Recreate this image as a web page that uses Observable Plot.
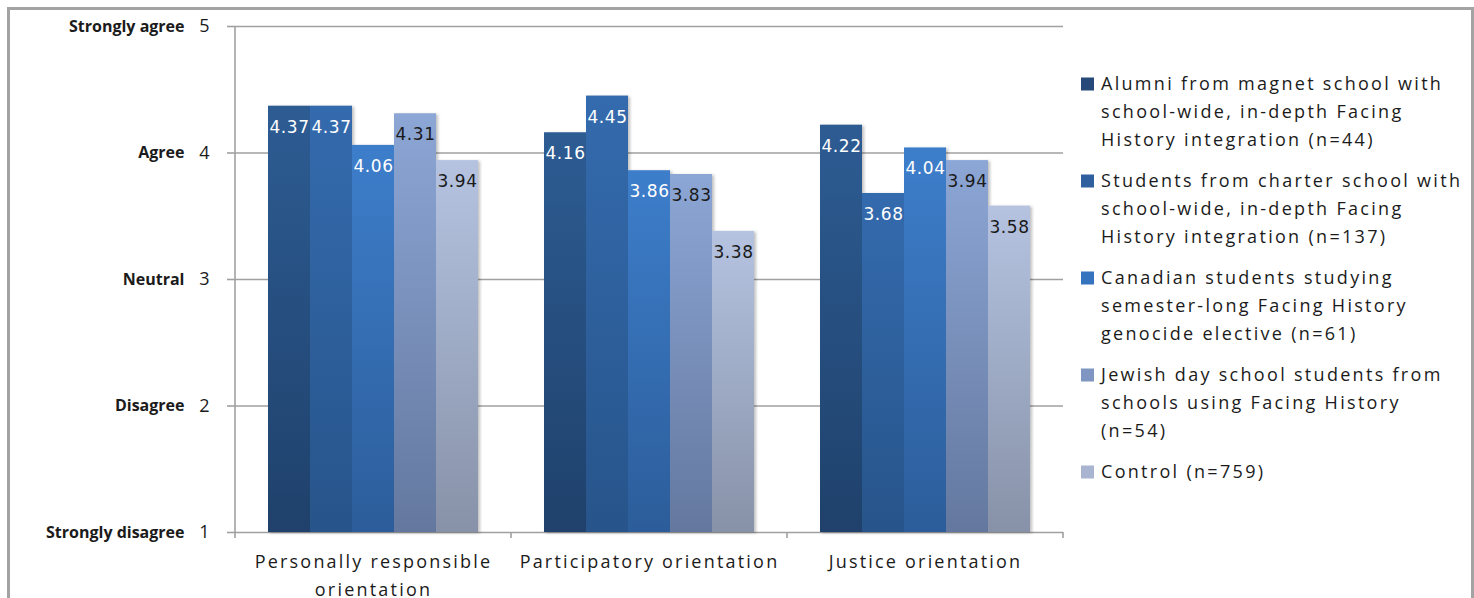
<!DOCTYPE html>
<html><head><meta charset="utf-8">
<script src="https://cdn.jsdelivr.net/npm/d3@7"></script>
<script src="https://cdn.jsdelivr.net/npm/@observablehq/plot@0.6"></script>
<style>
body{margin:0;background:#fff;}
#wrap{position:relative;width:1474px;height:598px;overflow:hidden;}
#wrap svg{position:absolute;left:0;top:0;}
#border{position:absolute;left:7px;top:7px;width:1461px;height:640px;border:3px solid #a3a3a3;}
#wrap g[aria-label="fx-axis tick label"] text{letter-spacing:2.2px;}
#wrap g[aria-label="y-axis tick label"][font-weight="bold"] text{letter-spacing:1.4px;}
#wrap g[aria-label="text"] text{letter-spacing:0.6px;}
</style></head><body><div id="wrap"><div id="border"></div></div>
<script>
// ---- data ----
const categories = ["Personally responsible\norientation", "Participatory orientation", "Justice orientation"];
const seriesNames = [
  "Alumni from magnet school with\nschool-wide, in-depth Facing\nHistory integration (n=44)",
  "Students from charter school with\nschool-wide, in-depth Facing\nHistory integration (n=137)",
  "Canadian students studying\nsemester-long Facing History\ngenocide elective (n=61)",
  "Jewish day school students from\nschools using Facing History\n(n=54)",
  "Control (n=759)"
];
const alumni   = [4.37, 4.16, 4.22];
const charter  = [4.37, 4.45, 3.68];
const canadian = [4.06, 3.86, 4.04];
const jewish   = [4.31, 3.83, 3.94];
const control  = [3.94, 3.38, 3.58];
const yTicks = [1, 2, 3, 4, 5];
const yTickLabels = ["Strongly disagree", "Disagree", "Neutral", "Agree", "Strongly agree"];

// ---- styles ----
const gradStops = [
  ["#2d5c93", "#1f416b"],
  ["#346bae", "#27548a"],
  ["#3d7ecb", "#2c5d9a"],
  ["#8ca6d5", "#64789f"],
  ["#b5c3e1", "#8792a8"]
];
const legendColors = ["#26497a", "#2f5f9f", "#3673bf", "#7f95c2", "#a9b5d0"];
const labelColors = ["#ffffff", "#ffffff", "#ffffff", "#1a1a1a", "#1a1a1a"];
const font = "'Open Sans', sans-serif";

const allSeries = [alumni, charter, canadian, jewish, control];
const rows = [];
categories.forEach((c, ci) => allSeries.forEach((arr, si) => rows.push({category: c, series: seriesNames[si], si, value: arr[ci]})));

const plot = Plot.plot({
  width: 1474, height: 598,
  marginLeft: 235, marginRight: 411, marginTop: 26, marginBottom: 66,
  fx: {domain: categories, padding: 0, label: null},
  x: {domain: seriesNames, padding: 0, paddingOuter: 0.77, axis: null},
  y: {domain: [1, 5], label: null},
  color: {type: "identity"},
  style: {background: "transparent", color: "#1b1b1b", fontFamily: font},
  marks: [
    Plot.gridY(yTicks, {stroke: "#a0a0a0", strokeOpacity: 1, strokeWidth: 1.6}),
    Plot.axisY({ticks: yTicks, tickFormat: d => String(d), tickSize: 8, tickPadding: 18, stroke: "#a0a0a0", strokeWidth: 1.6, fontSize: 18, label: null}),
    Plot.axisY({ticks: yTicks, tickFormat: d => yTickLabels[d - 1], tickSize: 0, tickPadding: 51, fontSize: 16, fontWeight: "bold", label: null}),
    Plot.axisFx({anchor: "bottom", tickSize: 0, tickPadding: 16, fontSize: 18, lineHeight: 1.55, label: null}),
    Plot.barY(rows, {fx: "category", x: "series", y1: 1, y2: "value", fill: d => `url(#grad${d.si})`, imageFilter: "drop-shadow(2px 1px 1.5px rgba(0,0,0,0.25))"}),
    Plot.text(rows, {fx: "category", x: "series", y: "value", text: d => d.value.toFixed(2), dy: 21, fill: d => labelColors[d.si], fontSize: 17, fontFamily: "'DejaVu Sans', sans-serif"})
  ]
});

const svgEl = plot.tagName.toLowerCase() === "svg" ? plot : plot.querySelector("svg");
document.getElementById("wrap").appendChild(plot);
const svg = d3.select(svgEl);
const defs = svg.insert("defs", ":first-child");
gradStops.forEach((s, i) => {
  const g = defs.append("linearGradient").attr("id", `grad${i}`).attr("x1", 0).attr("y1", 0).attr("x2", 0).attr("y2", 1);
  g.append("stop").attr("offset", "0%").attr("stop-color", s[0]);
  g.append("stop").attr("offset", "100%").attr("stop-color", s[1]);
});

// axis line and category boundary ticks, positioned with the plot's scales
const fx = plot.scale("fx"), y = plot.scale("y");
const x0 = fx.apply(categories[0]);
const bw = fx.bandwidth;
const yb = y.apply(1), yt = y.apply(5);
const deco = svg.append("g").attr("stroke", "#a0a0a0").attr("stroke-width", 1.6);
deco.append("line").attr("x1", x0).attr("x2", x0).attr("y1", yt).attr("y2", yb + 6);
categories.forEach((c, i) => {
  const xs = fx.apply(c) + bw;
  deco.append("line").attr("x1", xs).attr("x2", xs).attr("y1", yb).attr("y2", yb + 6);
});

// legend
const lg = svg.append("g").attr("font-family", font).attr("font-size", 18).attr("fill", "#1b1b1b")
  .attr("text-anchor", "start").attr("letter-spacing", "2.3px");
let ly = 84;
seriesNames.forEach((name, i) => {
  const lines = name.split("\n");
  lg.append("rect").attr("x", 1081).attr("y", ly - 6.5).attr("width", 13).attr("height", 13).attr("fill", legendColors[i]);
  const t = lg.append("text").attr("x", 1101).attr("y", ly);
  lines.forEach((l, j) => t.append("tspan").attr("x", 1101).attr("dy", j === 0 ? "0.35em" : 28).text(l));
  ly += lines.length * 28 + 13;
});
</script></body></html>
